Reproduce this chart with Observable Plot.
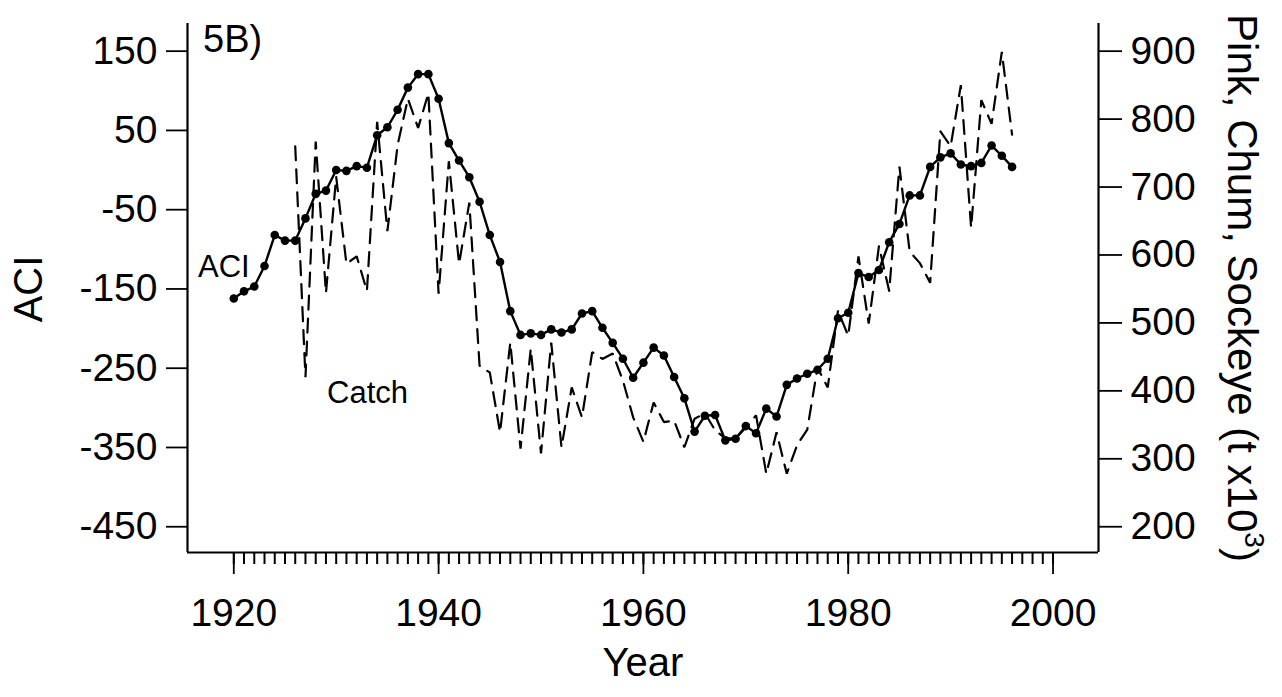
<!DOCTYPE html>
<html><head><meta charset="utf-8">
<script src="https://cdn.jsdelivr.net/npm/d3@7"></script>
<script src="https://cdn.jsdelivr.net/npm/@observablehq/plot@0.6"></script>
<style>
html,body{margin:0;padding:0;background:#fff;}
</style></head><body><div id="chart"></div>
<script>
// ACI series (solid line with dots)
const aciYears = [1920,1921,1922,1923,1924,1925,1926,1927,1928,1929,1930,1931,1932,1933,1934,1935,1936,1937,1938,1939,
  1940,1941,1942,1943,1944,1945,1946,1947,1948,1949,1950,1951,1952,1953,1954,1955,1956,1957,1958,1959,
  1960,1961,1962,1963,1964,1965,1966,1967,1968,1969,1970,1971,1972,1973,1974,1975,1976,1977,1978,1979,
  1980,1981,1982,1983,1984,1985,1986,1987,1988,1989,1990,1991,1992,1993,1994,1995,1996];
const aciValues = [-162,-153,-147,-121,-82,-89,-89,-61,-30,-26,0,-1,5,3,44,54,76,104,121,121,
  90,34,12,-9,-40,-82,-116,-178,-208,-206,-208,-201,-205,-201,-181,-178,-199,-218,-238,-262,
  -243,-224,-234,-261,-288,-330,-310,-309,-341,-339,-323,-332,-301,-311,-271,-263,-257,-252,-238,-187,
  -180,-130,-135,-126,-91,-68,-32,-32,4,16,21,7,5,9,31,18,4];

// Catch series (dashed line), Pink + Chum + Sockeye, t x10^3 (right axis)
const catchYears = [1926,1927,1928,1929,1930,1931,1932,1933,1934,1935,1936,1937,1938,1939,
  1940,1941,1942,1943,1944,1945,1946,1947,1948,1949,1950,1951,1952,1953,1954,1955,1956,1957,1958,1959,
  1960,1961,1962,1963,1964,1965,1966,1967,1968,1969,1970,1971,1972,1973,1974,1975,1976,1977,1978,1979,
  1980,1981,1982,1983,1984,1985,1986,1987,1988,1989,1990,1991,1992,1993,1994,1995,1996];
const catchValues = [760,420,767,544,715,587,598,547,796,635,762,830,787,838,
  543,738,587,677,437,427,339,471,315,462,308,471,317,405,361,457,447,455,415,361,
  325,383,354,356,317,359,367,342,330,330,346,364,278,339,278,320,343,434,405,518,
  481,598,499,613,547,730,605,588,559,782,760,850,640,828,793,899,777];

// Tick labels
const xMajorTicks = [1920,1940,1960,1980,2000];
const xMinorTicks = [1920,1921,1922,1923,1924,1925,1926,1927,1928,1929,1930,1931,1932,1933,1934,1935,1936,1937,1938,1939,
  1940,1941,1942,1943,1944,1945,1946,1947,1948,1949,1950,1951,1952,1953,1954,1955,1956,1957,1958,1959,
  1960,1961,1962,1963,1964,1965,1966,1967,1968,1969,1970,1971,1972,1973,1974,1975,1976,1977,1978,1979,
  1980,1981,1982,1983,1984,1985,1986,1987,1988,1989,1990,1991,1992,1993,1994,1995,1996,1997,1998,1999,2000];
const aciTicks = [150,50,-50,-150,-250,-350,-450];
const catchTicks = [200,300,400,500,600,700,800,900];

// Map right-axis (catch) values into the left-axis (ACI) space
const catchToAci = d3.scaleLinear([200, 900], [-450, 150]);

const xDomain = [1915.48, 2004.44];
const yDomain = [-482.5, 184.9];
const pxPerAci = (697 - 145 - 23) / (yDomain[1] - yDomain[0]);

const aciData = aciYears.map((year, i) => ({year, value: aciValues[i]}));
const catchData = catchYears.map((year, i) => ({year, value: catchValues[i]}));
const minorData = xMinorTicks.map(year => ({year}));

const chart = Plot.plot({
  width: 1282,
  height: 697,
  marginLeft: 187,
  marginRight: 184,
  marginTop: 23,
  marginBottom: 145,
  style: {fontSize: "39px", color: "black", fontFamily: "'Liberation Sans', Arial, sans-serif"},
  x: {domain: xDomain, axis: null},
  y: {domain: yDomain, axis: null},
  marks: [
    // x axis minor ticks (every year)
    Plot.ruleX(minorData, {x: "year", y1: yDomain[0], y2: yDomain[0] - 12 / pxPerAci, stroke: "black", strokeWidth: 2}),
    // frame: left, right, bottom
    Plot.ruleX([xDomain[0], xDomain[1]], {y1: yDomain[0], y2: yDomain[1], strokeWidth: 2.2}),
    Plot.ruleY([yDomain[0]], {x1: xDomain[0], x2: xDomain[1], strokeWidth: 2.2}),
    // x axis major ticks + labels
    Plot.axisX(xMajorTicks, {anchor: "bottom", tickSize: 22, tickPadding: 24, strokeWidth: 1.8, tickFormat: d => String(d), label: null}),
    // left y axis
    Plot.axisY(aciTicks, {anchor: "left", tickSize: 21, tickPadding: 9, strokeWidth: 1.8, tickFormat: d => String(d), label: null}),
    // right y axis (catch)
    Plot.axisY(catchTicks.map(c => catchToAci(c)), {anchor: "right", tickSize: 23, tickPadding: 9, strokeWidth: 1.8,
      tickFormat: d => String(Math.round(catchToAci.invert(d))), label: null}),
    // catch dashed line
    Plot.line(catchData, {x: "year", y: d => catchToAci(d.value), stroke: "black", strokeWidth: 2.2,
      strokeDasharray: "14,9", strokeLinejoin: "miter"}),
    // ACI line and dots
    Plot.line(aciData, {x: "year", y: "value", stroke: "black", strokeWidth: 2.4}),
    Plot.dot(aciData, {x: "year", y: "value", r: 4.3, fill: "black", stroke: "none"})
  ]
});

const svg = d3.select(chart);
const font = "'Liberation Sans', Arial, sans-serif";
function addText(txt, x, y, size, opts = {}) {
  const t = svg.append("text").attr("x", x).attr("y", y)
    .attr("font-size", size).attr("font-family", font).attr("fill", "black")
    .attr("text-anchor", opts.anchor || "start");
  if (opts.rotate) t.attr("transform", `rotate(${opts.rotate},${x},${y})`);
  t.text(txt);
  return t;
}
addText("5B)", 203, 52, 38);
addText("ACI", 198, 277, 31);
addText("Catch", 327, 403, 31);
addText("Year", 643, 676, 40, {anchor: "middle"});
addText("ACI", 42, 289, 40, {anchor: "middle", rotate: -90});
const rl = svg.append("text").attr("x", 1228).attr("y", 288)
  .attr("font-size", 42).attr("font-family", font).attr("fill", "black")
  .attr("text-anchor", "middle").attr("transform", "rotate(90,1228,288)");
rl.append("tspan").text("Pink, Chum, Sockeye (t x10");
rl.append("tspan").attr("font-size", 28).attr("dy", -17).text("3");
rl.append("tspan").attr("dy", 17).text(")");

document.getElementById("chart").appendChild(chart);
</script></body></html>
